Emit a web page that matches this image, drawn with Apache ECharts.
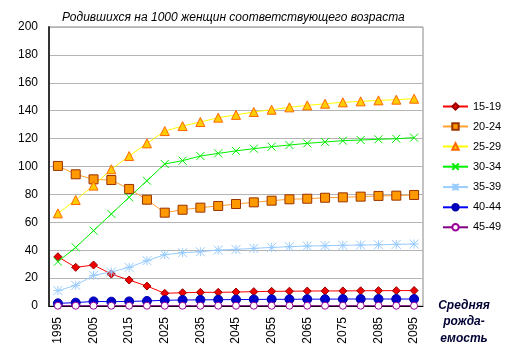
<!DOCTYPE html>
<html><head><meta charset="utf-8">
<script src="https://cdn.jsdelivr.net/npm/echarts@6/dist/echarts.min.js"></script>
<style>html,body{margin:0;padding:0;background:#fff}#c{width:513px;height:362px}</style>
</head><body><div id="c"></div>
<script>
var years = ['1995','2000','2005','2010','2015','2020','2025','2030','2035','2040','2045','2050','2055','2060','2065','2070','2075','2080','2085','2090','2095'];
var s1519 = [35.3, 27.7, 29.4, 22.9, 18.6, 14.3, 9.1, 9.5, 9.8, 9.8, 10.0, 10.3, 10.5, 10.6, 10.7, 10.8, 10.8, 10.9, 11.0, 11.0, 11.1];
var s2024 = [100.4, 94.4, 90.8, 90.3, 83.9, 76.2, 66.9, 69.0, 70.5, 71.7, 73.1, 74.3, 75.5, 76.5, 76.9, 77.6, 77.9, 78.4, 78.9, 79.1, 79.6];
var s2529 = [66.4, 76.0, 86.3, 98.0, 107.5, 116.6, 125.4, 129.0, 131.9, 135.0, 137.0, 139.1, 140.7, 142.4, 143.8, 145.0, 146.0, 146.7, 147.4, 147.9, 148.6];
var s3034 = [31.8, 42.0, 54.0, 66.0, 77.9, 89.8, 101.8, 104.2, 107.5, 109.4, 111.2, 112.8, 114.2, 115.4, 116.6, 117.6, 118.5, 119.0, 119.5, 119.9, 120.7];
var s3539 = [11.0, 14.8, 22.0, 24.4, 27.7, 32.5, 36.8, 38.2, 38.9, 40.1, 40.6, 41.3, 42.0, 42.5, 43.0, 43.2, 43.5, 43.7, 43.9, 44.2, 44.4];
var s4044 = [1.9, 2.4, 3.3, 3.1, 3.3, 3.6, 4.1, 4.3, 4.4, 4.5, 4.6, 4.7, 4.8, 4.8, 4.9, 4.9, 5.0, 5.0, 5.0, 5.0, 5.0];
var s4549 = [0.2, 0.2, 0.2, 0.2, 0.2, 0.2, 0.2, 0.2, 0.2, 0.2, 0.2, 0.2, 0.2, 0.2, 0.2, 0.2, 0.2, 0.2, 0.2, 0.2, 0.2];
var names = ['15-19','20-24','25-29','30-34','35-39','40-44','45-49'];
var titleText = 'Родившихся на 1000 женщин соответствующего возраста';
var noteText = 'Средняя\nрожда-\nемость';

var FONT = '"Liberation Sans", Arial, sans-serif';
function ser(name, data, lineColor, symbol, size, fill, border) {
  return {
    name: name, type: 'line', data: data, symbol: symbol, symbolSize: size,
    showAllSymbol: true, animation: false, clip: false,
    lineStyle: {color: lineColor, width: 1},
    itemStyle: {color: fill, borderColor: border, borderWidth: 1}
  };
}
var chart = echarts.init(document.getElementById('c'), null, {renderer: 'canvas'});
chart.setOption({
  animation: false,
  backgroundColor: '#fff',
  title: {text: titleText, left: 57, top: 7,
    textStyle: {fontFamily: FONT, fontSize: 12, fontStyle: 'italic', fontWeight: 'normal', color: '#000'}},
  grid: {left: 49, right: 90, top: 27, bottom: 56, show: true, borderColor: '#888', borderWidth: 1, backgroundColor: 'transparent'},
  legend: {
    orient: 'vertical', left: 437, top: 96, itemWidth: 25, itemHeight: 8, itemGap: 9,
    textStyle: {fontFamily: FONT, fontSize: 11, color: '#000'},
    data: names
  },
  xAxis: {
    type: 'category', data: years, boundaryGap: true,
    axisLine: {lineStyle: {color: '#000', width: 1}},
    axisTick: {show: false},
    axisLabel: {interval: 1, rotate: 90, fontFamily: FONT, fontSize: 12, color: '#000', margin: 11}
  },
  yAxis: {
    type: 'value', min: 0, max: 200, interval: 20,
    axisLine: {show: true, lineStyle: {color: '#333', width: 2}},
    axisTick: {show: false},
    splitLine: {lineStyle: {color: '#b4b4b4', width: 1}},
    axisLabel: {fontFamily: FONT, fontSize: 12, color: '#000', margin: 11}
  },
  graphic: [{type: 'text', x: 464, y: 297,
    style: {text: noteText, font: 'italic bold 12px ' + FONT, fill: '#000033', align: 'center', lineHeight: 16.5}}],
  series: [
    ser('15-19', s1519, '#ff0000', 'diamond', 8, '#ee0000', '#990000'),
    ser('20-24', s2024, '#ffa030', 'rect', 9, '#ff9900', '#993300'),
    ser('25-29', s2529, '#ffff00', 'triangle', 9, '#ffcc00', '#ff6600'),
    ser('30-34', s3034, '#00ee00', 'path://M0,0L10,10M10,0L0,10', 8, 'none', '#00ee00'),
    ser('35-39', s3539, '#99ccff', 'path://M5,0L5,10M0,0L10,10M10,0L0,10M0,5L10,5', 9, 'none', '#99ccff'),
    ser('40-44', s4044, '#0000ff', 'circle', 9, '#0000cc', '#0000aa'),
    ser('45-49', s4549, '#800080', 'circle', 7, '#ffffff', '#990099')
  ]
});
</script></body></html>
